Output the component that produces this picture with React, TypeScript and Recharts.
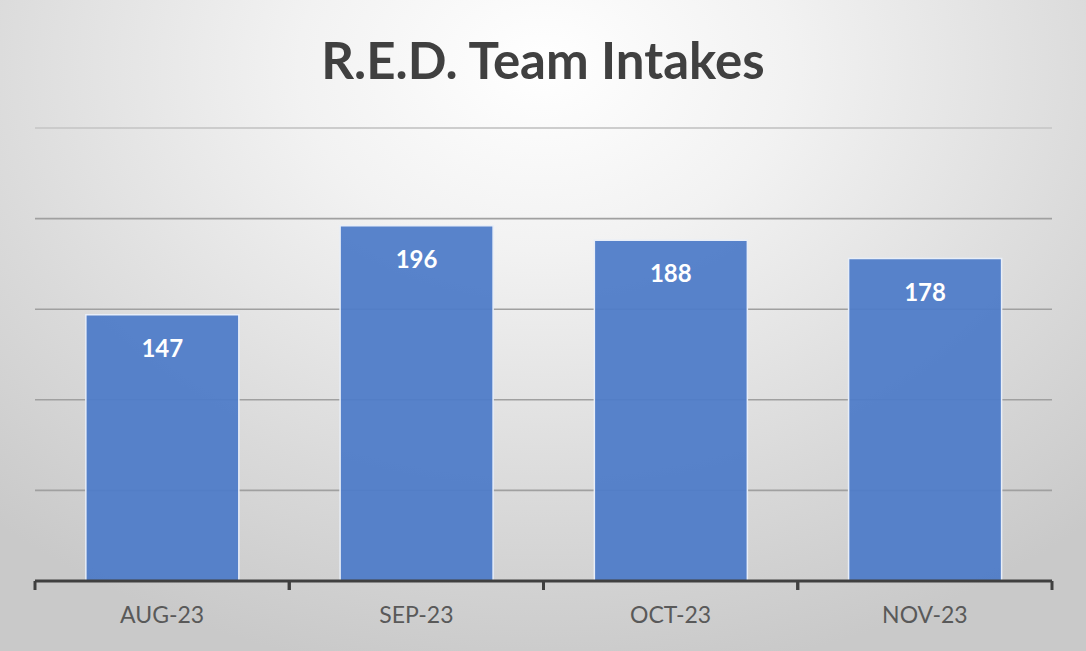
import React from "react";
import { BarChart, Bar, XAxis, YAxis, CartesianGrid, LabelList, ReferenceLine } from "recharts";

const months = ["AUG-23", "SEP-23", "OCT-23", "NOV-23"];
const intakes = [147, 196, 188, 178];
const gridTicks = [0, 50, 100, 150, 200];
const title = "R.E.D. Team Intakes";

const data = months.map((m, i) => ({ month: m, value: intakes[i] }));

const W = 1086;
const H = 651;
const FONT = "Lato, 'Open Sans', sans-serif";

const CatTick = (props: any) => {
  const { x, y, payload } = props;
  const half = payload && typeof payload.offset === "number" && payload.offset > 0 ? payload.offset : 127;
  return (
    <g>
      <line x1={x - half} x2={x - half} y1={y - 10} y2={y - 1} stroke="#404040" strokeWidth={3} />
      <line x1={x + half} x2={x + half} y1={y - 10} y2={y - 1} stroke="#404040" strokeWidth={3} />
      <text x={x} y={y + 32} textAnchor="middle" fill="#595959" fontSize={23} fontFamily={FONT}>
        {payload.value}
      </text>
    </g>
  );
};

export default function App() {
  return (
    <div
      style={{
        position: "absolute",
        left: 0,
        top: 0,
        width: W,
        height: H,
        overflow: "hidden",
        background:
          "radial-gradient(ellipse 75% 95% at 50% 10%, #ffffff 0%, #f2f2f2 30%, #dadada 70%, #c9c9c9 100%)",
      }}
    >
      <div
        style={{
          position: "absolute",
          left: 0,
          top: 28,
          width: W,
          textAlign: "center",
          fontFamily: FONT,
          fontWeight: 700,
          fontSize: 51,
          color: "#404040",
          lineHeight: "64px",
        }}
      >
        {title}
      </div>
      <div style={{ position: "absolute", left: 0, top: 0 }}>
        <BarChart
          width={W}
          height={H}
          data={data}
          margin={{ top: 128, right: 34, left: 35, bottom: 30 }}
          barCategoryGap="20%"
        >
          <CartesianGrid horizontal vertical={false} stroke="#a0a0a0" strokeWidth={1.6} />
          <YAxis hide domain={[0, 250]} ticks={gridTicks} type="number" />
          <XAxis
            dataKey="month"
            height={40}
            axisLine={{ stroke: "#404040", strokeWidth: 3 }}
            tickLine={false}
            tickSize={8}
            tick={<CatTick />}
            interval={0}
          />
          <ReferenceLine y={250} stroke="#d4d4d4" strokeWidth={1.6} />
          <Bar
            dataKey="value"
            fill="#4f7cc8"
            fillOpacity={0.95}
            stroke="#e8eef8"
            strokeWidth={1.5}
            isAnimationActive={false}
          >
            <LabelList
              dataKey="value"
              position="insideTop"
              offset={25}
              fill="#ffffff"
              fontSize={24}
              fontWeight={700}
              fontFamily={FONT}
            />
          </Bar>
        </BarChart>
      </div>
    </div>
  );
}
